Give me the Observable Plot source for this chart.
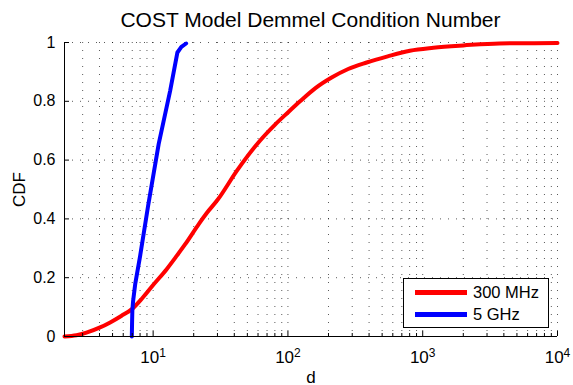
<!DOCTYPE html>
<html>
<head>
<meta charset="utf-8">
<script src="https://cdn.jsdelivr.net/npm/d3@7"></script>
<script src="https://cdn.jsdelivr.net/npm/@observablehq/plot@0.6"></script>
<style>
  body { margin: 0; background: #fff; }
  #wrap { position: relative; width: 573px; height: 385px; font-family: "Liberation Sans", Arial, Helvetica, sans-serif; }
  #title { position: absolute; z-index: 2; left: 64px; width: 493px; top: 9px; text-align: center; font-size: 21px; line-height: 1; color: #000; white-space: nowrap; }
  #legend { position: absolute; z-index: 2; left: 403px; top: 278px; width: 144px; height: 48px; border: 1px solid #000; background: #fff; }
  .row { position: absolute; left: 0; height: 20px; font-size: 16.5px; line-height: 20px; color: #000; }
  .sw { position: absolute; left: 11px; width: 52px; height: 5px; top: 8px; }
  .lb { position: absolute; left: 69px; white-space: nowrap; }
</style>
</head>
<body>
<div id="wrap">
  <div id="title"></div>
  <div id="legend"></div>
</div>
<script>
// ---- data ----
const titleText = "COST Model Demmel Condition Number";
const xLabel = "d";
const yLabel = "CDF";
const seriesNames = ["300 MHz", "5 GHz"];
const seriesColors = ["#ff0000", "#0000ff"];

// 300 MHz: d values and CDF
const d300 = [2.2, 2.7, 3.2, 4, 4.8, 5.8, 7, 8.3, 10, 12.6, 15, 17.3, 22, 25, 30, 42, 62, 80, 100, 123, 160, 211, 280, 384, 550, 803, 1200, 2000, 3700, 10000];
const cdf300 = [0, 0.004, 0.013, 0.03, 0.048, 0.07, 0.094, 0.13, 0.175, 0.229, 0.275, 0.314, 0.385, 0.42, 0.464, 0.565, 0.666, 0.72, 0.762, 0.80, 0.845, 0.881, 0.91, 0.932, 0.953, 0.972, 0.982, 0.99, 0.997, 0.998];

// 5 GHz
const d5 = [6.95, 6.98, 7.01, 7.1, 7.36, 8.01, 9.18, 10.99, 13.37, 15.14, 16.2, 17.57];
const cdf5 = [0, 0.05, 0.087, 0.12, 0.178, 0.2745, 0.4446, 0.6544, 0.8357, 0.966, 0.985, 0.9966];

const xDomain = [2.2, 10000];
const yDomain = [0, 1];
const xMajorTicks = [10, 100, 1000, 10000];
const xMinorTicks = [3, 4, 5, 6, 7, 8, 9, 20, 30, 40, 50, 60, 70, 80, 90, 200, 300, 400, 500, 600, 700, 800, 900, 2000, 3000, 4000, 5000, 6000, 7000, 8000, 9000];
const yTicks = [0, 0.2, 0.4, 0.6, 0.8, 1];

// ---- build ----
const rows300 = d300.map((d, i) => ({d, cdf: cdf300[i], s: seriesNames[0]}));
const rows5 = d5.map((d, i) => ({d, cdf: cdf5[i], s: seriesNames[1]}));

const gridStyle = {stroke: "#000", strokeOpacity: 0.65, strokeDasharray: "1,7"};

const chart = Plot.plot({
  width: 573,
  height: 385,
  marginLeft: 64,
  marginRight: 16,
  marginTop: 42,
  marginBottom: 49,
  style: {fontFamily: '"Liberation Sans", Arial, Helvetica, sans-serif', fontSize: "16px", color: "#000", background: "#fff"},
  x: {type: "log", domain: xDomain},
  y: {domain: yDomain},
  color: {domain: seriesNames, range: seriesColors},
  marks: [
    Plot.gridX([...xMinorTicks, ...xMajorTicks], gridStyle),
    Plot.gridY(yTicks.filter(v => v > 0), gridStyle),
    Plot.line(rows300, {x: "d", y: "cdf", stroke: "s", strokeWidth: 4, curve: "monotone-x"}),
    Plot.line(rows5, {x: "d", y: "cdf", stroke: "s", strokeWidth: 4, curve: "linear"}),
    Plot.ruleX([xDomain[0]], {stroke: "#000", strokeWidth: 1}),
    Plot.ruleY([yDomain[0]], {stroke: "#000", strokeWidth: 1}),
    Plot.axisY(yTicks, {tickSize: -5, tickPadding: 14, tickFormat: v => String(+v.toFixed(1)), label: yLabel, labelAnchor: "center", labelArrow: "none", labelOffset: 52}),
    Plot.axisX(xMinorTicks, {tickSize: -3, text: null, label: null}),
    Plot.axisX(xMajorTicks, {tickSize: -5, tickPadding: 19, tickFormat: v => "10^" + Math.round(Math.log10(v)), label: xLabel, labelAnchor: "center", labelArrow: "none", labelOffset: 46})
  ]
});

const wrap = document.getElementById("wrap");
wrap.insertBefore(chart, wrap.firstChild);
chart.style.position = "absolute";
chart.style.left = "0";
chart.style.top = "0";
chart.style.zIndex = "1";

// font sizes and superscripts on tick labels
const svg = d3.select(chart);
svg.selectAll("text").style("font-size", "16px").style("fill", "#000");
svg.selectAll("text").each(function() {
  const t = this.textContent;
  if (/^10\^\d+$/.test(t)) {
    const e = t.split("^")[1];
    const sel = d3.select(this);
    sel.style("font-size", "17px");
    sel.text(null);
    sel.append("tspan").text("10");
    sel.append("tspan").attr("dy", "-0.5em").style("font-size", "12px").text(e);
  } else if (t === xLabel || t === yLabel) {
    d3.select(this).style("font-size", "17px");
  }
});

document.getElementById("title").textContent = titleText;
const legend = d3.select("#legend");
seriesNames.forEach((name, i) => {
  const r = legend.append("div").attr("class", "row").style("top", (3 + i * 22) + "px").style("width", "100%");
  r.append("div").attr("class", "sw").style("background", seriesColors[i]);
  r.append("div").attr("class", "lb").text(name);
});
</script>
</body>
</html>
